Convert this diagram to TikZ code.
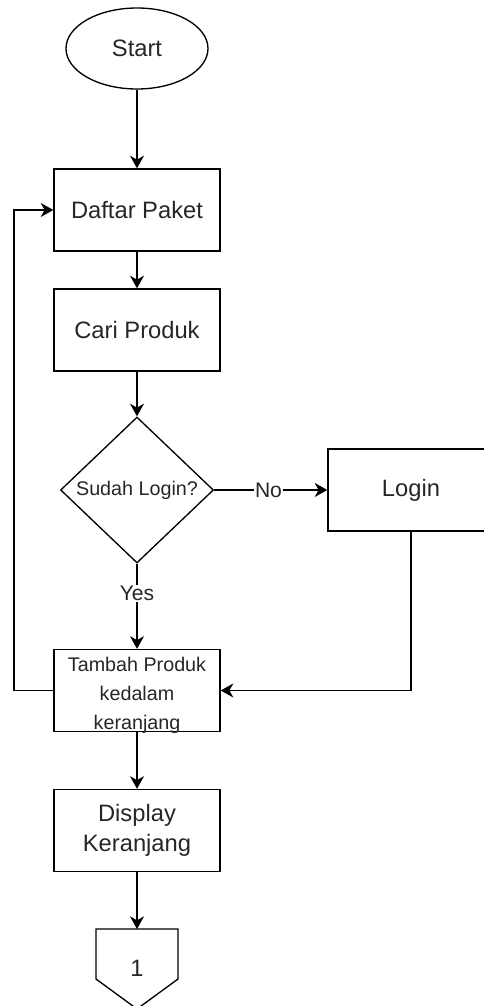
\documentclass[tikz,border=0pt]{standalone}
\usepackage{fontspec}
\setmainfont{Liberation Sans}
\usetikzlibrary{shapes.geometric,arrows.meta}
\begin{document}
\begin{tikzpicture}[x=0.75pt,y=-0.75pt,
  line width=1pt,
  every node/.style={text=black!85},
  arr/.style={-{Stealth[length=9.5pt,width=10.5pt,inset=3pt]}},
  procbox/.style={draw, rectangle, inner sep=0pt, minimum width=124.5pt, minimum height=61.5pt,
    font=\fontsize{17.8}{22.5}\selectfont, align=center},
  startell/.style={draw, ellipse, inner sep=0pt, minimum width=106.5pt, minimum height=60.75pt,
    font=\fontsize{17.8}{22.5}\selectfont},
  decis/.style={draw, diamond, inner sep=0pt, minimum width=114.75pt, minimum height=109.5pt,
    font=\fontsize{14.8}{18}\selectfont},
  lbl/.style={fill=white, inner sep=1pt, font=\fontsize{15.8}{18}\selectfont}
]
\useasboundingbox (0,0) rectangle (483,1006);
\node[startell] (start) at (137,48.5) {Start};
\node[procbox] (daftar) at (137,210) {Daftar Paket};
\node[procbox] (cari) at (137,330) {Cari Produk};
\node[decis] (dec) at (137,490) {Sudah Login?};
\node[procbox] (login) at (411,490) {Login};
\node[procbox] (tambah) at (137,690.5) {};
\node[align=center, inner sep=0pt, font=\fontsize{14.8}{21.75}\selectfont] (tambahtxt) at (137,695) {Tambah Produk\\kedalam\\keranjang};
\node[procbox] (disp) at (137,830.5) {Display\\Keranjang};
\coordinate (offtop) at (137,929);
\node[inner sep=0pt, font=\fontsize{17.8}{22.5}\selectfont] (off) at (137,968) {1};
\draw (96,929) -- (178,929) -- (178,979) -- (137,1009) -- (96,979) -- cycle;

\draw[arr] (start) -- (daftar);
\draw[arr] (daftar) -- (cari);
\draw[arr] (cari) -- (dec);
\draw[arr] (dec.east) -- node[lbl, pos=0.48] {No} (login.west);
\draw[arr] (dec.south) -- node[lbl, pos=0.35] {Yes} (tambah.north);
\draw[arr] (login.south) |- (tambah.east);
\draw[arr] (tambah.west) -- (14,690.5) |- (daftar.west);
\draw[arr] (tambah.south) -- (disp.north);
\draw[arr] (disp.south) -- (offtop);
\end{tikzpicture}
\end{document}
